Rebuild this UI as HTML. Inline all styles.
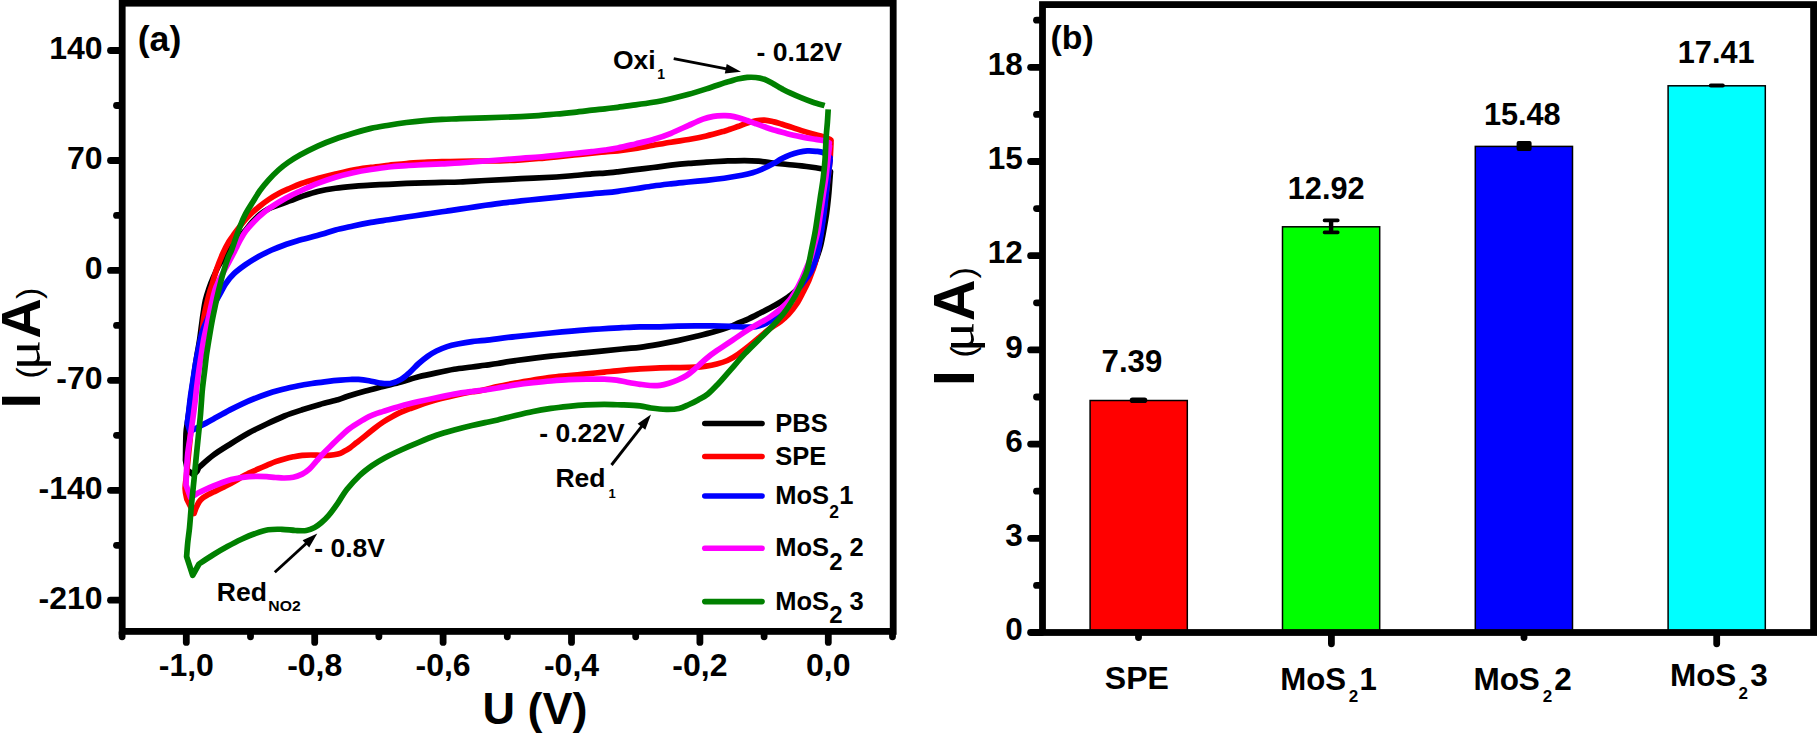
<!DOCTYPE html>
<html><head><meta charset="utf-8"><title>Figure</title>
<style>
html,body{margin:0;padding:0;background:#fff;}
body{width:1817px;height:733px;overflow:hidden;}
svg{display:block;}
text{font-family:"Liberation Sans",sans-serif;font-weight:bold;fill:#000;}
.r{font-weight:normal;}
.mu{font-weight:normal;font-family:"Liberation Serif","DejaVu Serif",serif;}
.c{fill:none;stroke-width:5.7;stroke-linecap:round;stroke-linejoin:round;}
.ax{stroke:#000;stroke-width:6.8;fill:none;stroke-linecap:butt;}
.tk{stroke:#000;stroke-width:6.8;stroke-linecap:round;}
</style></head><body>
<svg width="1817" height="733" viewBox="0 0 1817 733">
<rect x="0" y="0" width="1817" height="733" fill="#fff"/>

<g id="panelA">
<path class="c" stroke="#000000" d="M822.5,169.0C821.4,168.8 819.4,168.3 815.9,167.8C812.4,167.3 806.4,166.5 801.6,165.9C796.8,165.3 792.1,165.0 787.3,164.5C782.5,164.0 777.8,163.6 773.0,163.0C768.2,162.4 763.4,161.6 758.6,161.2C753.8,160.8 749.1,160.6 744.3,160.6C739.5,160.6 733.4,160.8 730.0,160.9C726.6,161.0 728.1,160.9 724.2,161.1C720.3,161.3 712.3,161.8 706.4,162.2C700.5,162.6 694.6,162.9 688.7,163.4C682.8,163.9 676.9,164.5 671.0,165.2C665.1,165.9 659.1,166.8 653.2,167.5C647.3,168.2 641.4,169.0 635.5,169.7C629.6,170.4 622.8,171.2 617.7,171.8C612.6,172.4 609.3,172.8 605.0,173.1C600.7,173.4 597.0,173.5 591.9,173.9C586.8,174.3 580.1,175.0 574.2,175.5C568.3,176.0 565.3,176.5 556.4,177.0C547.5,177.5 532.8,178.1 521.0,178.7C509.2,179.3 495.7,179.9 485.5,180.5C475.3,181.1 467.3,181.7 460.0,182.0C452.7,182.3 447.9,182.2 441.9,182.3C435.9,182.4 430.1,182.6 424.2,182.8C418.3,183.0 412.3,183.2 406.4,183.4C400.5,183.7 394.6,184.0 388.7,184.3C382.8,184.6 376.9,184.8 371.0,185.1C365.1,185.4 359.1,185.9 353.2,186.4C347.3,186.9 341.4,187.4 335.5,188.2C329.6,189.0 323.4,190.0 317.7,191.4C312.0,192.8 305.9,195.0 301.4,196.5C296.9,198.0 294.1,199.3 290.5,200.6C286.9,201.9 283.2,203.1 279.6,204.5C276.0,205.9 272.0,207.1 268.7,208.8C265.4,210.5 262.7,212.3 260.0,214.5C257.3,216.7 254.7,219.4 252.3,222.0C249.9,224.6 248.1,227.2 245.7,230.0C243.3,232.8 240.4,236.0 238.0,239.0C235.6,242.0 233.2,245.1 231.0,248.0C228.8,250.9 226.6,253.5 224.5,256.5C222.4,259.5 220.3,262.6 218.5,266.0C216.7,269.4 215.1,273.3 213.5,277.0C211.9,280.7 210.3,284.6 209.0,288.4C207.7,292.2 206.5,295.6 205.5,300.0C204.5,304.4 203.7,310.4 203.0,314.6C202.3,318.8 202.2,320.8 201.6,325.0C201.0,329.2 200.4,335.0 199.6,340.0C198.8,345.0 197.9,349.7 197.0,355.0C196.1,360.3 195.2,366.2 194.4,372.0C193.6,377.8 192.7,384.2 191.9,390.0C191.1,395.8 190.3,401.7 189.6,407.0C188.9,412.3 188.1,417.6 187.5,422.0C186.9,426.4 186.3,427.3 186.0,433.7C185.7,440.1 185.6,455.9 185.5,460.3L185.5,460.3L187.3,470.0L193.6,474.8L197.3,471.0L198.8,467.5L198.8,467.5C201.2,465.4 208.1,459.0 213.5,455.0C218.9,451.0 225.3,447.2 231.2,443.5C237.1,439.8 243.1,436.1 249.0,432.8C254.9,429.6 260.8,426.8 266.7,424.0C272.6,421.2 278.5,418.4 284.4,416.0C290.3,413.6 296.3,411.7 302.2,409.8C308.1,407.9 313.9,406.1 319.9,404.4C325.9,402.7 333.4,401.1 338.0,399.8C342.6,398.5 343.1,397.8 347.7,396.3C352.3,394.8 359.6,392.6 365.5,391.0C371.4,389.4 377.3,388.0 383.2,386.5C389.1,385.0 395.1,383.7 401.0,382.1C406.9,380.5 412.8,378.3 418.7,376.8C424.6,375.3 430.5,374.1 436.4,372.9C442.3,371.6 448.3,370.3 454.2,369.3C460.1,368.3 466.8,367.7 471.9,367.0C477.0,366.3 480.7,365.9 485.0,365.3C489.3,364.7 492.6,364.3 497.7,363.5C502.8,362.7 506.6,361.8 515.5,360.6C524.4,359.4 539.2,357.4 551.0,356.1C562.8,354.8 574.6,353.8 586.4,352.6C598.2,351.4 613.0,349.9 621.9,349.0C630.8,348.1 633.6,348.1 640.0,347.3C646.4,346.5 653.7,345.2 660.0,344.1C666.3,343.0 671.8,341.9 677.7,340.6C683.6,339.3 689.6,337.9 695.5,336.5C701.4,335.1 707.9,333.6 713.2,332.1C718.5,330.6 723.3,329.1 727.4,327.6C731.5,326.1 734.5,324.7 738.0,323.2C741.5,321.7 745.2,320.4 748.7,318.8C752.2,317.2 755.8,315.3 759.3,313.5C762.8,311.7 766.5,310.0 770.0,308.1C773.5,306.2 777.1,304.2 780.6,302.0C784.1,299.8 788.1,297.5 791.3,294.8C794.5,292.1 797.4,289.0 800.0,286.0C802.6,283.0 804.9,280.0 807.0,277.0C809.1,274.0 811.0,271.3 812.7,268.0C814.4,264.7 815.7,260.7 817.0,257.0C818.3,253.3 819.4,250.3 820.5,246.0C821.6,241.7 822.6,236.5 823.6,231.0C824.6,225.5 825.8,219.1 826.6,213.2C827.4,207.3 828.0,201.4 828.6,195.5C829.2,189.6 829.7,181.7 830.0,177.7C830.3,173.7 830.4,172.5 830.5,171.5"/>
<path class="c" stroke="#FF0000" d="M831.0,141.0C830.9,140.7 831.5,140.1 830.2,139.4C828.9,138.7 825.9,137.5 823.0,136.6C820.1,135.7 816.6,135.0 813.0,134.0C809.4,133.0 805.4,131.8 801.6,130.6C797.8,129.4 793.5,127.9 790.1,126.8C786.8,125.7 784.4,124.9 781.5,124.0C778.6,123.1 775.9,122.2 773.0,121.6C770.1,120.9 767.3,120.2 764.4,120.1C761.5,120.0 758.7,120.3 755.8,120.8C752.9,121.3 750.1,122.1 747.2,123.0C744.3,123.9 741.5,125.2 738.6,126.3C735.7,127.3 732.4,128.5 730.0,129.3C727.6,130.1 728.1,130.1 724.2,131.2C720.3,132.3 712.3,134.6 706.4,136.0C700.5,137.4 694.6,138.5 688.7,139.5C682.8,140.5 676.9,141.2 671.0,142.2C665.1,143.1 659.1,144.2 653.2,145.2C647.3,146.2 641.4,147.5 635.5,148.4C629.6,149.3 622.8,150.2 617.7,150.8C612.6,151.4 609.3,151.4 605.0,151.8C600.7,152.2 597.0,152.6 591.9,153.1C586.8,153.6 580.1,154.4 574.2,155.0C568.3,155.6 562.3,156.2 556.4,156.8C550.5,157.4 544.6,158.0 538.7,158.5C532.8,159.0 527.5,159.4 521.0,159.8C514.5,160.2 505.9,160.6 500.0,160.8C494.1,161.0 492.2,160.9 485.5,161.0C478.8,161.1 467.3,161.2 460.0,161.3C452.7,161.4 447.9,161.5 441.9,161.7C435.9,161.9 430.1,162.1 424.2,162.4C418.3,162.7 412.3,163.0 406.4,163.5C400.5,164.0 394.6,164.7 388.7,165.3C382.8,166.0 376.9,166.6 371.0,167.4C365.1,168.2 359.1,168.9 353.2,170.0C347.3,171.1 341.4,172.6 335.5,174.0C329.6,175.4 323.4,177.0 317.7,178.6C312.0,180.2 305.9,181.9 301.4,183.5C296.9,185.1 294.1,186.4 290.5,188.0C286.9,189.6 283.2,191.1 279.6,193.0C276.0,194.9 272.0,197.3 268.7,199.5C265.4,201.7 262.7,203.8 260.0,206.0C257.3,208.2 254.6,210.3 252.3,212.5C250.0,214.7 247.9,216.8 246.0,219.0C244.1,221.2 242.4,223.2 240.6,225.5C238.8,227.8 236.9,230.3 235.0,233.0C233.1,235.7 231.1,238.0 229.0,241.5C226.9,245.0 224.6,249.4 222.6,254.0C220.6,258.6 218.6,263.6 216.8,268.8C215.0,274.0 213.1,281.3 212.0,285.0C210.9,288.7 210.8,288.0 210.0,291.0C209.2,294.0 207.9,298.5 206.9,303.0C205.9,307.5 204.7,312.5 203.8,317.8C203.0,323.1 202.5,328.8 201.8,335.0C201.1,341.2 200.4,347.5 199.5,355.0C198.6,362.5 197.6,370.8 196.5,380.0C195.4,389.2 194.2,399.2 193.0,410.0C191.8,420.8 190.6,434.2 189.5,445.0C188.4,455.8 187.2,467.7 186.5,475.0C185.8,482.3 185.0,484.6 185.1,488.7C185.2,492.8 186.6,497.5 186.9,499.3L186.9,499.3L194.0,513.5L195.9,508.2L195.9,508.2C196.4,507.2 197.8,503.7 199.0,502.0C200.2,500.3 201.5,499.0 203.0,497.8C204.5,496.6 206.4,495.6 208.2,494.6C209.9,493.6 211.2,493.1 213.5,492.0C215.8,490.9 219.4,489.3 222.3,487.8C225.2,486.3 228.2,484.8 231.2,483.2C234.2,481.6 237.1,479.7 240.1,478.0C243.1,476.3 246.1,474.6 249.0,473.1C251.9,471.6 254.9,470.5 257.8,469.2C260.8,467.9 263.7,466.6 266.7,465.3C269.7,464.1 272.7,462.8 275.6,461.7C278.6,460.6 281.4,459.7 284.4,458.9C287.3,458.1 290.3,457.4 293.3,456.8C296.3,456.2 299.2,455.6 302.2,455.3C305.1,455.0 308.1,455.0 311.0,455.0C313.9,455.0 316.9,455.2 319.9,455.3C322.9,455.4 325.8,455.5 328.8,455.3C331.8,455.1 335.4,454.7 338.0,454.0C340.6,453.3 342.2,452.3 344.2,451.3C346.2,450.3 347.9,449.2 350.0,447.8C352.1,446.4 354.0,444.6 356.6,442.6C359.2,440.6 362.6,438.0 365.5,435.6C368.4,433.2 371.4,430.8 374.3,428.5C377.2,426.2 380.2,424.0 383.2,422.0C386.2,420.0 389.1,418.3 392.1,416.7C395.1,415.1 398.1,413.5 401.0,412.2C403.9,410.9 406.9,409.8 409.8,408.7C412.8,407.6 414.3,407.0 418.7,405.5C423.1,404.0 430.5,401.5 436.4,399.8C442.3,398.1 448.3,396.7 454.2,395.4C460.1,394.1 467.6,392.6 471.9,391.8C476.2,391.0 475.7,391.6 480.0,390.7C484.3,389.8 491.8,387.9 497.7,386.6C503.6,385.3 509.6,384.2 515.5,383.1C521.4,382.0 527.3,381.1 533.2,380.1C539.1,379.2 545.1,378.1 551.0,377.4C556.9,376.6 562.8,376.2 568.7,375.6C574.6,375.0 580.5,374.5 586.4,373.9C592.3,373.3 598.3,372.7 604.2,372.1C610.1,371.5 615.9,370.8 621.9,370.3C627.9,369.8 633.6,369.3 640.0,368.9C646.4,368.5 653.7,368.1 660.0,367.9C666.3,367.7 671.8,367.7 677.7,367.6C683.6,367.5 690.8,367.4 695.5,367.2C700.2,366.9 702.6,366.6 706.1,366.1C709.6,365.6 713.2,364.9 716.8,364.0C720.3,363.1 723.9,362.1 727.4,360.5C730.9,358.9 734.5,356.7 738.0,354.3C741.5,351.9 745.2,349.1 748.7,346.3C752.2,343.5 755.8,340.4 759.3,337.4C762.8,334.4 766.5,331.2 770.0,328.5C773.5,325.8 777.5,323.8 780.6,321.4C783.7,319.0 785.8,317.2 788.5,314.3C791.2,311.4 794.3,307.5 796.8,303.7C799.3,299.9 801.5,295.1 803.5,291.3C805.5,287.5 807.2,284.2 808.8,280.6C810.3,277.1 811.7,272.9 812.8,270.0C813.9,267.1 814.3,266.4 815.2,262.9C816.1,259.3 817.2,254.0 818.2,248.7C819.2,243.4 820.1,236.9 821.0,231.0C821.9,225.1 822.8,219.1 823.6,213.2C824.4,207.3 825.1,201.4 825.8,195.5C826.5,189.6 827.3,183.6 828.0,177.7C828.7,171.8 829.5,165.8 830.0,160.0C830.5,154.2 830.8,145.8 831.0,143.0"/>
<path class="c" stroke="#0000FF" d="M830.0,157.5C828.8,156.7 825.4,153.6 823.0,152.6C820.6,151.6 818.5,151.6 815.9,151.3C813.3,151.0 810.2,150.7 807.3,150.9C804.4,151.1 801.6,151.6 798.7,152.3C795.8,153.0 793.0,153.8 790.1,154.9C787.2,156.0 784.4,157.3 781.5,158.8C778.6,160.3 776.3,162.0 773.0,163.8C769.7,165.6 764.9,168.0 761.5,169.5C758.1,171.0 755.8,171.8 752.5,172.8C749.2,173.8 746.6,174.4 741.9,175.3C737.2,176.2 730.1,177.4 724.2,178.2C718.3,179.0 712.3,179.7 706.4,180.3C700.5,180.9 694.6,181.4 688.7,182.0C682.8,182.6 676.9,183.1 671.0,183.8C665.1,184.5 659.1,185.2 653.2,186.0C647.3,186.8 641.4,187.9 635.5,188.8C629.6,189.7 622.8,190.7 617.7,191.3C612.6,192.0 609.3,192.3 605.0,192.7C600.7,193.1 597.0,193.3 591.9,193.8C586.8,194.3 580.1,194.9 574.2,195.5C568.3,196.1 562.3,196.7 556.4,197.3C550.5,197.9 544.6,198.5 538.7,199.1C532.8,199.7 526.9,200.3 521.0,200.9C515.1,201.5 509.1,202.1 503.2,202.8C497.3,203.5 491.4,204.4 485.5,205.3C479.6,206.2 473.6,207.1 467.7,208.0C461.8,208.9 454.3,210.0 450.0,210.6C445.7,211.2 446.2,211.2 441.9,211.8C437.6,212.4 430.1,213.5 424.2,214.4C418.3,215.3 412.3,216.1 406.4,217.0C400.5,217.9 394.6,218.8 388.7,219.7C382.8,220.6 376.9,221.3 371.0,222.4C365.1,223.5 359.1,224.7 353.2,226.0C347.3,227.3 340.8,228.6 335.5,230.0C330.2,231.4 327.4,232.6 321.5,234.3C315.6,236.0 305.9,238.3 300.0,240.0C294.1,241.7 291.1,242.5 286.4,244.2C281.7,245.9 276.3,247.9 271.7,250.0C267.1,252.1 263.0,254.1 258.6,256.5C254.2,258.9 249.6,261.8 245.5,264.7C241.4,267.6 237.3,270.6 234.0,273.7C230.7,276.8 228.0,280.4 225.8,283.5C223.6,286.6 223.0,288.4 221.0,292.0C219.0,295.6 216.2,300.7 214.0,305.0C211.8,309.3 209.9,313.7 208.0,318.0C206.1,322.3 204.1,326.1 202.5,331.0C200.9,335.9 199.9,341.9 198.7,347.3C197.5,352.7 196.4,358.2 195.5,363.6C194.6,369.1 193.8,374.5 193.0,380.0C192.2,385.5 191.2,391.4 190.5,396.4C189.8,401.4 189.4,405.6 188.9,410.0C188.4,414.4 187.6,420.8 187.3,423.0L187.3,423.0L190.0,431.5L202.8,424.8L202.8,424.8C204.6,423.8 209.0,421.5 213.5,419.0C218.0,416.5 225.2,412.4 230.0,409.9C234.8,407.4 238.2,405.7 242.3,403.8C246.4,401.9 250.5,400.1 254.6,398.5C258.7,396.9 262.7,395.4 266.8,394.0C270.9,392.6 275.0,391.4 279.1,390.3C283.2,389.2 287.3,388.1 291.4,387.2C295.5,386.3 299.6,385.4 303.7,384.7C307.8,384.0 311.9,383.5 316.0,382.9C320.1,382.3 324.2,381.8 328.3,381.3C332.4,380.8 336.9,380.4 340.5,380.1C344.1,379.8 347.0,379.6 350.0,379.5C353.0,379.4 355.2,379.2 358.4,379.4C361.6,379.6 365.4,380.1 369.0,380.7C372.6,381.3 376.1,382.5 379.7,383.0C383.2,383.5 386.8,384.1 390.3,383.5C393.9,382.9 397.8,381.3 401.0,379.4C404.2,377.5 406.9,374.9 409.8,372.3C412.8,369.7 415.7,366.1 418.7,363.5C421.7,360.9 424.7,358.5 427.6,356.4C430.6,354.3 433.1,352.6 436.4,351.0C439.6,349.4 443.6,347.8 447.1,346.6C450.7,345.4 453.6,344.8 457.7,344.0C461.8,343.2 467.3,342.2 471.9,341.6C476.4,341.0 477.7,341.1 485.0,340.3C492.3,339.5 504.5,337.8 515.5,336.6C526.5,335.4 539.2,334.1 551.0,333.0C562.8,331.9 574.6,330.8 586.4,329.9C598.2,329.0 613.0,328.2 621.9,327.7C630.8,327.2 633.6,327.0 640.0,326.9C646.4,326.8 653.7,326.9 660.0,326.8C666.3,326.7 671.8,326.4 677.7,326.2C683.6,326.0 689.6,325.9 695.5,325.9C701.4,325.8 707.3,325.8 713.2,325.9C719.1,326.0 725.7,326.2 731.0,326.4C736.3,326.6 741.0,327.0 745.1,327.1C749.2,327.2 752.2,327.5 755.8,326.8C759.3,326.1 763.1,324.8 766.4,323.2C769.6,321.6 772.3,319.5 775.3,317.0C778.3,314.5 781.5,311.2 784.2,308.1C786.9,305.0 788.3,302.4 791.3,298.4C794.2,294.4 798.6,288.6 801.9,284.2C805.1,279.8 808.5,275.8 810.8,271.8C813.1,267.8 814.2,263.9 815.5,260.0C816.8,256.1 817.5,253.5 818.5,248.7C819.5,243.9 820.6,236.9 821.5,231.0C822.4,225.1 823.2,219.1 824.0,213.2C824.8,207.3 825.3,201.4 826.0,195.5C826.7,189.6 827.4,182.8 828.0,177.7C828.6,172.6 829.1,167.9 829.5,165.0C829.9,162.1 830.1,160.8 830.2,160.0"/>
<path class="c" stroke="#FF00FF" d="M829.3,143.0C828.2,142.6 825.2,141.2 823.0,140.6C820.8,140.0 819.5,140.0 815.9,139.4C812.3,138.8 806.4,137.9 801.6,136.9C796.8,135.9 792.1,134.9 787.3,133.7C782.5,132.5 776.8,130.8 773.0,129.7C769.2,128.5 767.3,127.8 764.4,126.8C761.5,125.8 758.7,124.8 755.8,123.7C752.9,122.7 750.1,121.5 747.2,120.5C744.3,119.5 741.5,118.5 738.6,117.7C735.7,116.9 732.4,116.2 730.0,115.9C727.6,115.6 727.0,115.5 724.2,115.6C721.5,115.7 717.0,115.8 713.5,116.4C710.0,117.0 707.0,117.6 702.9,119.1C698.8,120.6 694.0,122.9 688.7,125.3C683.4,127.7 676.9,130.9 671.0,133.3C665.1,135.7 659.1,137.7 653.2,139.5C647.3,141.3 641.4,142.5 635.5,143.9C629.6,145.3 622.8,147.0 617.7,148.0C612.6,149.0 609.3,149.4 605.0,150.0C600.7,150.6 597.0,151.0 591.9,151.6C586.8,152.2 580.1,152.9 574.2,153.5C568.3,154.1 562.3,154.7 556.4,155.3C550.5,155.9 544.6,156.5 538.7,157.0C532.8,157.5 529.9,157.6 521.0,158.3C512.1,159.0 495.7,160.2 485.5,161.0C475.3,161.8 467.3,162.5 460.0,163.0C452.7,163.5 447.9,163.6 441.9,163.9C435.9,164.2 430.1,164.4 424.2,164.7C418.3,165.0 412.3,165.2 406.4,165.6C400.5,166.0 394.6,166.3 388.7,167.0C382.8,167.7 376.9,168.6 371.0,169.5C365.1,170.4 359.1,171.4 353.2,172.7C347.3,174.0 341.4,175.4 335.5,177.2C329.6,179.0 323.4,181.2 317.7,183.4C312.0,185.6 305.9,188.4 301.4,190.5C296.9,192.6 294.1,193.8 290.5,195.7C286.9,197.6 283.2,199.5 279.6,201.7C276.0,203.9 272.0,206.4 268.7,208.8C265.4,211.2 262.7,213.5 260.0,215.9C257.3,218.3 254.7,221.0 252.3,223.5C249.9,226.0 247.7,228.4 245.7,231.1C243.7,233.8 241.9,237.0 240.3,239.9C238.7,242.8 237.6,245.2 235.9,248.6C234.2,251.9 232.0,256.3 230.0,260.0C228.0,263.7 225.9,267.5 224.0,271.0C222.1,274.5 220.3,277.8 218.8,281.0C217.3,284.2 216.3,285.8 215.0,290.0C213.7,294.2 212.2,300.9 211.0,306.4C209.8,311.8 208.7,317.2 207.5,322.7C206.3,328.1 204.9,333.6 203.8,339.1C202.8,344.6 202.0,350.1 201.2,355.5C200.3,360.9 199.5,366.4 198.7,371.8C197.9,377.2 197.2,383.5 196.6,388.2C196.0,392.9 195.9,395.1 195.3,400.0C194.7,404.9 193.8,411.8 193.0,417.7C192.2,423.6 191.3,429.6 190.4,435.5C189.5,441.4 188.5,447.3 187.8,453.2C187.2,459.1 186.8,465.7 186.5,471.0C186.2,476.3 186.1,482.7 186.0,485.0L186.0,485.0L190.5,497.5L197.5,493.2L197.5,493.2C198.7,492.6 201.9,491.0 204.6,489.8C207.3,488.6 210.6,487.2 213.5,486.0C216.4,484.8 219.4,483.6 222.3,482.5C225.2,481.4 228.2,480.3 231.2,479.5C234.2,478.7 237.1,478.2 240.1,477.7C243.1,477.2 246.1,476.8 249.0,476.6C251.9,476.4 254.9,476.3 257.8,476.3C260.8,476.3 263.7,476.4 266.7,476.6C269.7,476.8 272.7,477.3 275.6,477.5C278.6,477.7 281.4,478.1 284.4,478.0C287.3,477.9 290.3,477.8 293.3,477.2C296.3,476.6 299.5,475.4 302.2,474.1C304.9,472.8 306.9,471.4 309.3,469.2C311.7,467.0 314.0,463.9 316.4,461.2C318.8,458.5 321.1,455.7 323.5,453.2C325.9,450.7 327.9,448.8 330.5,446.3C333.1,443.8 336.0,440.7 338.9,438.0C341.8,435.3 344.8,432.4 347.7,430.0C350.6,427.6 353.6,425.7 356.6,423.8C359.6,421.9 362.6,420.0 365.5,418.4C368.4,416.8 371.4,415.6 374.3,414.4C377.2,413.2 378.8,412.8 383.2,411.4C387.6,410.0 395.1,407.6 401.0,406.0C406.9,404.4 412.8,403.0 418.7,401.6C424.6,400.2 430.5,398.9 436.4,397.7C442.3,396.4 448.3,395.1 454.2,394.1C460.1,393.1 466.8,392.2 471.9,391.5C477.0,390.8 480.7,390.6 485.0,390.0C489.3,389.4 492.6,388.9 497.7,388.0C502.8,387.1 509.6,385.8 515.5,384.9C521.4,384.0 527.3,383.3 533.2,382.7C539.1,382.1 545.1,381.5 551.0,381.0C556.9,380.5 562.8,380.0 568.7,379.7C574.6,379.4 580.5,379.3 586.4,379.2C592.3,379.1 599.2,379.0 604.2,379.2C609.2,379.4 612.8,379.6 616.6,380.1C620.4,380.6 623.3,381.5 627.2,382.2C631.1,382.9 636.2,383.8 640.0,384.3C643.8,384.9 646.7,385.3 650.0,385.5C653.3,385.7 656.9,385.7 660.0,385.3C663.1,384.9 665.9,384.1 668.9,383.2C671.9,382.3 674.8,381.3 677.7,380.0C680.7,378.7 683.6,377.4 686.6,375.5C689.6,373.6 692.2,371.2 695.5,368.4C698.8,365.6 702.6,361.6 706.1,358.7C709.6,355.8 713.2,353.2 716.8,350.7C720.3,348.2 723.9,346.0 727.4,343.6C730.9,341.2 734.5,338.9 738.0,336.5C741.5,334.1 745.2,331.6 748.7,329.4C752.2,327.2 755.8,325.3 759.3,323.2C762.8,321.1 766.5,319.4 770.0,317.0C773.5,314.6 777.4,311.8 780.6,309.0C783.9,306.2 786.8,303.4 789.5,300.2C792.2,296.9 794.5,293.1 796.6,289.5C798.7,285.9 800.2,282.5 801.9,278.9C803.5,275.3 805.0,271.5 806.5,268.0C808.0,264.5 809.4,261.8 810.7,258.0C812.0,254.2 813.1,249.5 814.3,245.0C815.5,240.5 816.8,236.3 817.8,231.0C818.8,225.7 819.6,219.1 820.5,213.2C821.4,207.3 822.2,201.4 823.1,195.5C824.0,189.6 825.0,183.6 825.8,177.7C826.6,171.8 827.2,165.3 827.8,160.0C828.4,154.7 829.2,148.3 829.5,146.0"/>
<path class="c" stroke="#008000" d="M824.6,105.6C822.7,105.0 816.8,103.5 813.0,102.2C809.2,100.9 805.4,99.5 801.6,97.9C797.8,96.4 793.5,94.5 790.1,92.9C786.8,91.4 784.4,90.1 781.5,88.6C778.6,87.0 775.9,85.1 773.0,83.6C770.1,82.0 767.3,80.3 764.4,79.3C761.5,78.3 758.7,77.8 755.8,77.5C752.9,77.2 750.1,77.2 747.2,77.4C744.3,77.6 741.5,78.2 738.6,78.8C735.7,79.4 732.4,80.6 730.0,81.3C727.6,82.0 728.1,81.6 724.2,82.9C720.3,84.2 712.3,87.0 706.4,88.9C700.5,90.8 694.6,92.7 688.7,94.3C682.8,95.9 676.9,97.4 671.0,98.7C665.1,100.0 659.1,101.3 653.2,102.3C647.3,103.3 641.4,104.1 635.5,104.9C629.6,105.7 622.8,106.7 617.7,107.3C612.6,107.9 609.3,108.3 605.0,108.8C600.7,109.3 597.0,109.6 591.9,110.2C586.8,110.8 580.1,111.7 574.2,112.3C568.3,112.9 562.3,113.5 556.4,114.0C550.5,114.5 544.6,115.2 538.7,115.6C532.8,116.0 529.9,116.2 521.0,116.6C512.1,117.0 495.7,117.4 485.5,117.8C475.3,118.2 467.3,118.4 460.0,118.7C452.7,119.0 447.9,119.1 441.9,119.4C435.9,119.7 430.1,120.1 424.2,120.6C418.3,121.1 412.3,121.7 406.4,122.5C400.5,123.3 394.6,124.2 388.7,125.2C382.8,126.2 376.9,127.1 371.0,128.4C365.1,129.8 359.1,131.5 353.2,133.3C347.3,135.1 341.4,136.9 335.5,139.0C329.6,141.1 323.6,143.4 317.7,146.1C311.8,148.8 304.9,152.3 300.0,155.0C295.1,157.7 291.6,160.0 288.0,162.5C284.4,165.0 281.7,167.1 278.5,170.0C275.3,172.9 271.8,176.4 268.7,179.8C265.6,183.2 262.6,186.9 259.9,190.7C257.2,194.5 254.7,199.0 252.3,202.8C249.9,206.6 247.7,209.9 245.7,213.7C243.7,217.5 241.9,221.7 240.3,225.7C238.7,229.7 237.4,233.6 235.9,237.7C234.4,241.8 232.9,246.6 231.6,250.0C230.3,253.4 229.4,254.3 228.0,258.0C226.6,261.7 225.0,266.6 223.4,272.0C221.8,277.4 220.0,284.8 218.6,290.5C217.2,296.2 216.2,301.0 215.1,306.4C214.0,311.8 212.8,317.2 211.8,322.7C210.8,328.1 209.9,333.6 209.0,339.1C208.1,344.6 207.2,350.1 206.4,355.5C205.7,360.9 205.2,366.4 204.5,371.8C203.8,377.2 203.1,382.7 202.5,388.2C201.9,393.7 201.6,400.1 201.2,405.0C200.8,409.9 200.7,412.6 200.2,417.7C199.7,422.8 199.0,429.6 198.4,435.5C197.8,441.4 197.2,447.3 196.6,453.2C196.0,459.1 195.5,465.1 194.9,471.0C194.3,476.9 193.7,482.8 193.1,488.7C192.5,494.6 191.9,499.8 191.3,506.4C190.7,512.9 190.1,522.1 189.5,528.0C188.9,533.9 188.3,537.2 187.8,542.0C187.3,546.8 186.8,554.1 186.6,556.5L186.6,556.5L192.7,575.4L199.0,564.0L199.0,564.0C201.4,562.4 208.9,557.4 213.6,554.5C218.3,551.6 222.7,549.0 227.3,546.5C231.9,544.0 236.4,541.6 241.0,539.5C245.6,537.4 250.1,535.4 254.6,533.8C259.1,532.2 263.6,530.5 268.2,529.8C272.8,529.0 277.3,529.2 281.9,529.3C286.4,529.4 291.4,530.3 295.5,530.5C299.6,530.7 303.2,531.0 306.4,530.5C309.6,530.0 312.1,528.8 314.6,527.5C317.1,526.2 319.1,524.5 321.5,522.5C323.9,520.5 326.1,518.6 328.8,515.3C331.6,512.0 335.0,507.2 338.0,502.9C341.0,498.6 343.2,494.0 346.8,489.5C350.4,485.0 355.2,479.7 359.4,475.7C363.6,471.7 367.8,468.6 372.0,465.6C376.2,462.7 379.8,460.6 384.6,458.0C389.4,455.4 395.3,452.6 401.0,450.0C406.7,447.4 412.8,444.8 418.7,442.4C424.6,439.9 430.5,437.4 436.4,435.3C442.3,433.2 448.3,431.6 454.2,430.0C460.1,428.4 466.8,426.7 471.9,425.5C477.0,424.3 480.7,423.5 485.0,422.6C489.3,421.7 492.6,421.2 497.7,420.0C502.8,418.8 509.6,416.9 515.5,415.5C521.4,414.1 527.3,412.7 533.2,411.5C539.1,410.3 545.1,409.3 551.0,408.4C556.9,407.5 562.8,406.9 568.7,406.3C574.6,405.7 580.5,405.2 586.4,404.9C592.3,404.6 598.3,404.4 604.2,404.4C610.1,404.4 615.9,404.7 621.9,404.9C627.9,405.1 635.1,405.3 640.0,405.8C644.9,406.3 646.6,407.4 651.0,408.0C655.4,408.6 661.6,409.3 666.3,409.4C671.0,409.5 675.2,409.3 679.0,408.5C682.8,407.7 685.8,405.9 689.0,404.5C692.2,403.1 695.0,401.8 698.1,400.0C701.2,398.2 704.5,396.8 707.9,394.0C711.3,391.2 714.6,387.6 718.5,383.5C722.4,379.4 726.6,374.3 731.0,369.3C735.4,364.3 740.4,358.4 745.1,353.4C749.8,348.4 754.6,343.9 759.3,339.2C764.0,334.5 769.4,329.4 773.5,325.0C777.6,320.6 780.7,317.3 784.2,312.6C787.8,307.9 791.8,301.6 794.8,296.6C797.8,291.6 799.8,286.8 801.9,282.4C804.0,278.0 805.6,275.6 807.2,270.0C808.9,264.4 810.4,255.2 811.8,248.7C813.1,242.2 814.3,236.9 815.3,231.0C816.3,225.1 817.1,219.1 818.0,213.2C818.9,207.3 819.7,201.4 820.6,195.5C821.5,189.6 822.6,183.6 823.3,177.7C824.0,171.8 824.5,166.8 825.0,160.0C825.5,153.2 825.8,142.9 826.2,136.6C826.6,130.3 827.1,126.8 827.4,122.3C827.7,117.8 828.1,111.5 828.2,109.3" style="stroke-linecap:butt"/>
<rect class="ax" x="122.2" y="3.2" width="771.0" height="628.2"/>
<line class="tk" x1="110.5" y1="50.5" x2="121.2" y2="50.5"/>
<line class="tk" x1="110.5" y1="160.5" x2="121.2" y2="160.5"/>
<line class="tk" x1="110.5" y1="270.4" x2="121.2" y2="270.4"/>
<line class="tk" x1="110.5" y1="380.3" x2="121.2" y2="380.3"/>
<line class="tk" x1="110.5" y1="490.3" x2="121.2" y2="490.3"/>
<line class="tk" x1="110.5" y1="600.2" x2="121.2" y2="600.2"/>
<line class="tk" x1="116.5" y1="105.5" x2="121.2" y2="105.5"/>
<line class="tk" x1="116.5" y1="215.4" x2="121.2" y2="215.4"/>
<line class="tk" x1="116.5" y1="325.4" x2="121.2" y2="325.4"/>
<line class="tk" x1="116.5" y1="435.3" x2="121.2" y2="435.3"/>
<line class="tk" x1="116.5" y1="545.3" x2="121.2" y2="545.3"/>
<line class="tk" x1="186.3" y1="632.4" x2="186.3" y2="642.4"/>
<line class="tk" x1="314.7" y1="632.4" x2="314.7" y2="642.4"/>
<line class="tk" x1="443.1" y1="632.4" x2="443.1" y2="642.4"/>
<line class="tk" x1="571.5" y1="632.4" x2="571.5" y2="642.4"/>
<line class="tk" x1="699.9" y1="632.4" x2="699.9" y2="642.4"/>
<line class="tk" x1="828.3" y1="632.4" x2="828.3" y2="642.4"/>
<line class="tk" x1="122.1" y1="632.4" x2="122.1" y2="636.8"/>
<line class="tk" x1="250.5" y1="632.4" x2="250.5" y2="636.8"/>
<line class="tk" x1="378.9" y1="632.4" x2="378.9" y2="636.8"/>
<line class="tk" x1="507.3" y1="632.4" x2="507.3" y2="636.8"/>
<line class="tk" x1="635.7" y1="632.4" x2="635.7" y2="636.8"/>
<line class="tk" x1="764.1" y1="632.4" x2="764.1" y2="636.8"/>
<line class="tk" x1="892.5" y1="632.4" x2="892.5" y2="636.8"/>
<text x="102.6" y="59.0" font-size="32" text-anchor="end">140</text>
<text x="102.6" y="169.0" font-size="32" text-anchor="end">70</text>
<text x="102.6" y="278.9" font-size="32" text-anchor="end">0</text>
<text x="102.6" y="388.8" font-size="32" text-anchor="end">-70</text>
<text x="102.6" y="498.8" font-size="32" text-anchor="end">-140</text>
<text x="102.6" y="608.7" font-size="32" text-anchor="end">-210</text>
<text x="186.3" y="675.6" font-size="32" text-anchor="middle">-1,0</text>
<text x="314.7" y="675.6" font-size="32" text-anchor="middle">-0,8</text>
<text x="443.1" y="675.6" font-size="32" text-anchor="middle">-0,6</text>
<text x="571.5" y="675.6" font-size="32" text-anchor="middle">-0,4</text>
<text x="699.9" y="675.6" font-size="32" text-anchor="middle">-0,2</text>
<text x="828.3" y="675.6" font-size="32" text-anchor="middle">0,0</text>
<text x="482.5" y="723.8" font-size="45">U (V)</text>
<text x="137.7" y="50.6" font-size="35.7">(a)</text>
<text transform="translate(40.0,408.4) rotate(-90)" font-size="55.5">I</text><text class="r" transform="translate(40.0,378.6) rotate(-90)" font-size="34">(</text><text class="mu" transform="translate(40.0,370.6) rotate(-90) scale(1.24,1.08)" font-size="46">μ</text><text transform="translate(40.0,338.7) rotate(-90)" font-size="56">A</text><text class="r" transform="translate(40.0,299.0) rotate(-90)" font-size="34">)</text>
<line x1="704.8" y1="423.5" x2="762" y2="423.5" stroke="#000000" stroke-width="5.6" stroke-linecap="round"/>
<line x1="704.8" y1="456.5" x2="762" y2="456.5" stroke="#FF0000" stroke-width="5.6" stroke-linecap="round"/>
<line x1="704.8" y1="496.0" x2="762" y2="496.0" stroke="#0000FF" stroke-width="5.6" stroke-linecap="round"/>
<line x1="704.8" y1="548.2" x2="762" y2="548.2" stroke="#FF00FF" stroke-width="5.6" stroke-linecap="round"/>
<line x1="704.8" y1="601.6" x2="762" y2="601.6" stroke="#008000" stroke-width="5.6" stroke-linecap="round"/>
<text x="775.3" y="431.9" font-size="25.5">PBS</text>
<text x="775.3" y="464.7" font-size="25.5">SPE</text>
<text x="775.3" y="504" font-size="25.5">MoS<tspan font-size="17.5" dy="13.9">2</tspan><tspan dy="-13.9" dx="0.5">1</tspan></text>
<text x="775.3" y="556.2" font-size="25.5">MoS<tspan font-size="24" dy="13.3">2</tspan><tspan dy="-13.3" dx="7">2</tspan></text>
<text x="775.3" y="609.6" font-size="25.5">MoS<tspan font-size="24" dy="13.3">2</tspan><tspan dy="-13.3" dx="7">3</tspan></text>
<text x="613" y="68.7" font-size="26.5">Oxi<tspan font-size="14" dy="10" dx="1.5">1</tspan></text>
<text x="756.5" y="61.3" font-size="26.5">- 0.12V</text>
<text x="539.3" y="442.3" font-size="26.5">- 0.22V</text>
<text x="555.4" y="486.8" font-size="26.5">Red<tspan font-size="13" dy="11.2" dx="3">1</tspan></text>
<text x="314.3" y="557.1" font-size="26.5">- 0.8V</text>
<text x="216.8" y="600.5" font-size="26.5">Red<tspan font-size="14.5" dy="10.9" dx="1.5" textLength="32.3" lengthAdjust="spacingAndGlyphs">NO2</tspan></text>
<line x1="673.7" y1="58.6" x2="727.8" y2="69.2" stroke="#000" stroke-width="2.9"/><polygon fill="#000" points="741.0,71.8 724.8,73.6 726.7,64.0"/>
<line x1="611.5" y1="465.0" x2="642.7" y2="425.1" stroke="#000" stroke-width="2.9"/><polygon fill="#000" points="651.0,414.5 645.3,429.7 637.6,423.7"/>
<line x1="274.8" y1="572.3" x2="307.3" y2="542.5" stroke="#000" stroke-width="2.9"/><polygon fill="#000" points="317.3,533.4 309.2,547.5 302.6,540.3"/>
</g>
<g id="panelB">
<rect x="1090.1" y="400.5" width="97.2" height="232.0" fill="#FF0000" stroke="#000" stroke-width="1.5"/>
<rect x="1282.5" y="226.8" width="97.2" height="405.7" fill="#00FF00" stroke="#000" stroke-width="1.5"/>
<rect x="1475.3" y="146.4" width="97.2" height="486.1" fill="#0000FF" stroke="#000" stroke-width="1.5"/>
<rect x="1668.1" y="85.8" width="97.2" height="546.7" fill="#00FFFF" stroke="#000" stroke-width="1.5"/>
<line x1="1132.5" y1="400.2" x2="1144.5" y2="400.2" stroke="#000" stroke-width="5.6" stroke-linecap="round"/>
<path d="M1324.5,220.4H1337.8M1324.5,232.4H1337.8" stroke="#000" stroke-width="3.6" stroke-linecap="round" fill="none"/><line x1="1331.1" y1="220.4" x2="1331.1" y2="232.4" stroke="#000" stroke-width="4.4"/>
<rect x="1516.6" y="140.9" width="15" height="10.2" rx="2" fill="#000"/>
<line x1="1710.8" y1="85.6" x2="1722.8" y2="85.6" stroke="#000" stroke-width="4" stroke-linecap="round"/>
<rect class="ax" x="1042.5" y="4.6" width="771.1" height="627.9"/>
<line class="tk" x1="1030.6" y1="632.5" x2="1041.5" y2="632.5"/>
<text x="1022.8" y="640.2" font-size="31.5" text-anchor="end">0</text>
<line class="tk" x1="1030.6" y1="538.3" x2="1041.5" y2="538.3"/>
<text x="1022.8" y="546.0" font-size="31.5" text-anchor="end">3</text>
<line class="tk" x1="1030.6" y1="444.1" x2="1041.5" y2="444.1"/>
<text x="1022.8" y="451.8" font-size="31.5" text-anchor="end">6</text>
<line class="tk" x1="1030.6" y1="349.9" x2="1041.5" y2="349.9"/>
<text x="1022.8" y="357.6" font-size="31.5" text-anchor="end">9</text>
<line class="tk" x1="1030.6" y1="255.7" x2="1041.5" y2="255.7"/>
<text x="1022.8" y="263.4" font-size="31.5" text-anchor="end">12</text>
<line class="tk" x1="1030.6" y1="161.5" x2="1041.5" y2="161.5"/>
<text x="1022.8" y="169.2" font-size="31.5" text-anchor="end">15</text>
<line class="tk" x1="1030.6" y1="67.3" x2="1041.5" y2="67.3"/>
<text x="1022.8" y="75.0" font-size="31.5" text-anchor="end">18</text>
<line class="tk" x1="1036.5" y1="585.4" x2="1041.5" y2="585.4"/>
<line class="tk" x1="1036.5" y1="491.2" x2="1041.5" y2="491.2"/>
<line class="tk" x1="1036.5" y1="397.0" x2="1041.5" y2="397.0"/>
<line class="tk" x1="1036.5" y1="302.8" x2="1041.5" y2="302.8"/>
<line class="tk" x1="1036.5" y1="208.6" x2="1041.5" y2="208.6"/>
<line class="tk" x1="1036.5" y1="114.4" x2="1041.5" y2="114.4"/>
<line class="tk" x1="1036.5" y1="20.2" x2="1041.5" y2="20.2"/>
<line class="tk" x1="1138.5" y1="634.0" x2="1138.5" y2="637.6"/>
<line class="tk" x1="1331.4" y1="634.0" x2="1331.4" y2="643.8"/>
<line class="tk" x1="1524.0" y1="634.0" x2="1524.0" y2="637.6"/>
<line class="tk" x1="1716.7" y1="634.0" x2="1716.7" y2="643.8"/>
<text x="1101.6" y="372.4" font-size="31.2">7.39</text>
<text x="1287.8" y="199.2" font-size="30.7">12.92</text>
<text x="1483.9" y="125.2" font-size="30.7">15.48</text>
<text x="1677.8" y="62.9" font-size="30.7">17.41</text>
<text x="1104.8" y="688.8" font-size="32">SPE</text>
<text x="1280.2" y="689.7" font-size="31.2">MoS<tspan font-size="17" dy="12.5" dx="2.6">2</tspan><tspan dy="-12.5" dx="1.4">1</tspan></text>
<text x="1473.4" y="689.7" font-size="31.5">MoS<tspan font-size="17" dy="12.5" dx="2.8">2</tspan><tspan dy="-12.5" dx="2">2</tspan></text>
<text x="1669.9" y="686.4" font-size="31.5">MoS<tspan font-size="17" dy="12.9" dx="2.2">2</tspan><tspan dy="-12.9" dx="2.2">3</tspan></text>
<text x="1050.6" y="49.3" font-size="33.8">(b)</text>
<text transform="translate(974.0,386.0) rotate(-90)" font-size="57">I</text><text class="r" transform="translate(974.0,357.6) rotate(-90)" font-size="34">(</text><text class="mu" transform="translate(974.0,352.2) rotate(-90) scale(1.24,1.08)" font-size="46">μ</text><text transform="translate(974.0,321.2) rotate(-90)" font-size="58">A</text><text class="r" transform="translate(974.0,278.6) rotate(-90)" font-size="34">)</text>
</g>
</svg></body></html>
